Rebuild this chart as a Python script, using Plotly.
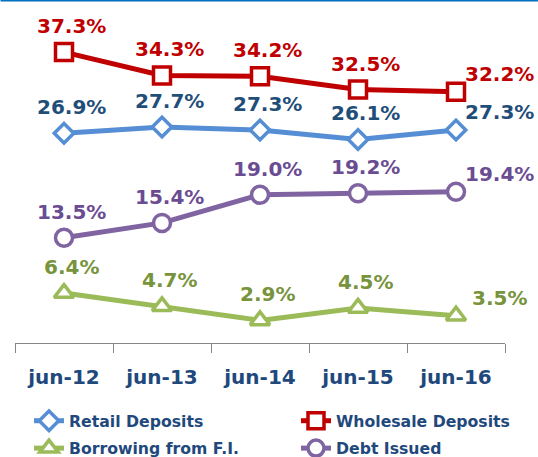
import plotly.graph_objects as go

categories = ["jun-12", "jun-13", "jun-14", "jun-15", "jun-16"]
retail = [26.9, 27.7, 27.3, 26.1, 27.3]
wholesale = [37.3, 34.3, 34.2, 32.5, 32.2]
borrowing = [6.4, 4.7, 2.9, 4.5, 3.5]
debt = [13.5, 15.4, 19.0, 19.2, 19.4]

FONT = "DejaVu Sans"
NAVY = "#1F497D"
W, H = 538, 457

series = [
    dict(name="Retail Deposits", y=retail, line="#558ED5", label="#1F4E79",
         symbol="diamond", size=15, legend="legend"),
    dict(name="Wholesale Deposits", y=wholesale, line="#C00000", label="#C00000",
         symbol="square", size=17, legend="legend2"),
    dict(name="Borrowing from F.I.", y=borrowing, line="#9BBB59", label="#77933C",
         symbol="triangle-up", size=17, legend="legend"),
    dict(name="Debt Issued", y=debt, line="#8064A2", label="#6A4C93",
         symbol="circle", size=17, legend="legend2"),
]

fig = go.Figure()
annotations = []
for s in series:
    fig.add_trace(go.Scatter(
        x=categories, y=s["y"], name=s["name"], mode="lines+markers",
        line=dict(color=s["line"], width=5),
        marker=dict(symbol=s["symbol"], size=s["size"], color="white",
                    line=dict(color=s["line"], width=3.5)),
        cliponaxis=False, legend=s["legend"], legendgroup=s["name"],
    ))
    n = len(s["y"])
    for i, (c, v) in enumerate(zip(categories, s["y"])):
        last = i == n - 1
        annotations.append(dict(
            x=c, y=v, text=f"{v:.1f}%", showarrow=False,
            xshift=43 if last else 7, yshift=18 if last else 26,
            font=dict(family=FONT, size=20, color=s["label"], weight="bold"),
        ))

legend_common = dict(
    orientation="v", xref="container", yref="container",
    xanchor="left", yanchor="top", tracegroupgap=4,
    font=dict(family=FONT, size=15.7, color=NAVY, weight="bold"),
    bgcolor="rgba(0,0,0,0)", borderwidth=0,
)

fig.update_layout(
    width=W, height=H,
    margin=dict(l=14.5, r=33, t=31, b=114, autoexpand=False),
    paper_bgcolor="white", plot_bgcolor="white",
    font=dict(family=FONT, color=NAVY),
    showlegend=True,
    legend=dict(x=29 / W, y=1 - 404 / H, **legend_common),
    legend2=dict(x=296 / W, y=1 - 404 / H, **legend_common),
    xaxis=dict(
        type="category", range=[-0.5, 4.5], showgrid=False,
        showline=True, linecolor="#868686", linewidth=1,
        ticks="outside", ticklen=9, tickcolor="#868686", tickson="boundaries",
        tickfont=dict(family=FONT, size=20, color=NAVY, weight="bold"),
        ticklabelstandoff=16, automargin=False,
    ),
    yaxis=dict(range=[0, 40], visible=False, showgrid=False, zeroline=False,
               automargin=False),
    annotations=annotations,
    shapes=[dict(type="line", xref="paper", yref="paper",
                 x0=-14.5 / 490.5, x1=(W - 14.5) / 490.5,
                 y0=1 + 30.5 / 312, y1=1 + 30.5 / 312,
                 line=dict(color="#0070C0", width=2))],
)

fig.write_html("out.html", config={"displayModeBar": False},
               post_script="document.body.style.margin='0';")
